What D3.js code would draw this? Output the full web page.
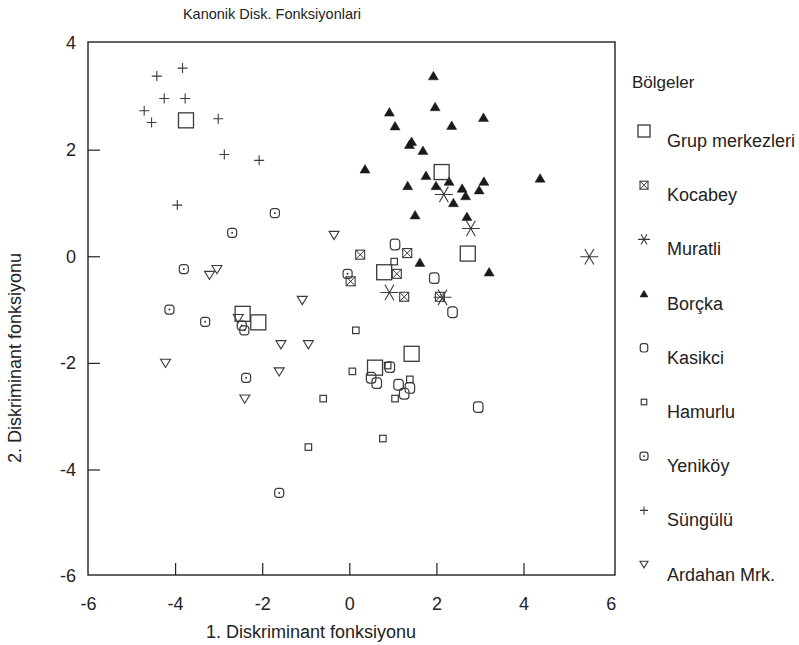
<!DOCTYPE html>
<html><head><meta charset="utf-8">
<script src="https://cdn.jsdelivr.net/npm/d3@7"></script>
<style>
body{margin:0;background:#fff;}
text{font-family:"Liberation Sans",Arial,sans-serif;fill:#222;}
</style></head>
<body><svg id="c" width="799" height="645"></svg>
<script>
// ---- data (Discriminant function 1, Discriminant function 2) ----
const grupMerkezleri = [[-3.75,2.55],[2.12,1.58],[2.72,0.05],[0.80,-0.30],[1.43,-1.83],[0.59,-2.09],[-2.45,-1.08],[-2.09,-1.24]];
const kocabey = [[0.25,0.03],[1.33,0.06],[1.09,-0.33],[0.03,-0.47],[1.26,-0.76],[2.08,-0.76]];
const muratli = [[0.92,-0.68],[2.14,-0.77],[2.17,1.16],[2.79,0.52],[5.51,-0.01]];
const borcka = [[1.93,3.39],[1.97,2.81],[0.92,2.71],[3.08,2.61],[1.05,2.45],[2.35,2.46],[1.43,2.16],[1.38,2.10],[1.69,1.99],[1.76,1.52],[1.34,1.33],[1.99,1.33],[2.29,1.41],[2.59,1.28],[3.09,1.41],[2.98,1.25],[2.67,1.14],[2.39,1.01],[4.38,1.47],[1.51,0.78],[2.70,0.75],[1.62,-0.11],[3.21,-0.29],[0.36,1.64]];
const kasikci = [[1.05,0.22],[1.95,-0.41],[2.37,-1.05],[0.93,-2.08],[0.50,-2.28],[0.63,-2.38],[1.13,-2.41],[1.39,-2.47],[1.26,-2.58],[2.96,-2.83]];
const hamurlu = [[1.03,-0.10],[0.88,-2.05],[1.39,-2.31],[1.05,-2.67],[0.07,-2.16],[0.15,-1.39],[0.77,-3.42],[-0.60,-2.67],[-0.94,-3.58]];
const yenikoy = [[-1.71,0.81],[-2.69,0.44],[-3.80,-0.24],[-0.04,-0.33],[-4.13,-1.00],[-3.31,-1.23],[-2.47,-1.30],[-2.41,-1.39],[-2.37,-2.28],[-1.61,-4.44]];
const sungulu = [[-3.83,3.53],[-4.42,3.38],[-4.25,2.96],[-3.77,2.96],[-4.71,2.73],[-4.54,2.51],[-3.01,2.58],[-2.87,1.91],[-2.07,1.80],[-3.95,0.96]];
const ardahan = [[-0.35,0.39],[-3.04,-0.25],[-3.21,-0.36],[-1.08,-0.83],[-2.55,-1.17],[-1.57,-1.66],[-0.94,-1.66],[-4.22,-2.01],[-1.61,-2.17],[-2.40,-2.68]];

const xTicks = [-6,-4,-2,0,2,4,6];
const yTicks = [4,2,0,-2,-4,-6];
const xInnerTicks = [-4,-2,0,2,4];
const yInnerTicks = [2,0,-2,-4];
const legendTitle = "Bölgeler";
const legendLabels = ["Grup merkezleri","Kocabey","Muratli","Borçka","Kasikci","Hamurlu","Yeniköy","Süngülü","Ardahan Mrk."];
const chartTitle = "Kanonik Disk. Fonksiyonlari";
const xTitle = "1. Diskriminant fonksiyonu";
const yTitle = "2. Diskriminant fonksiyonu";

// ---- drawing ----
const svg = d3.select("#c");
const x = d3.scaleLinear().domain([-6, 6.1]).range([88, 615]);
const y = d3.scaleLinear().domain([-5.98, 4.02]).range([575, 42]);
const stroke = "#3a3a3a";
const fmt = d => String(d);

function symbol(g, type, s){
  if(type==="square"){
    g.append("rect").attr("x",-s/2).attr("y",-s/2).attr("width",s).attr("height",s)
     .attr("fill","none").attr("stroke",stroke).attr("stroke-width",1.3);
  } else if(type==="boxx"){
    g.append("rect").attr("x",-s/2).attr("y",-s/2).attr("width",s).attr("height",s)
     .attr("fill","none").attr("stroke",stroke).attr("stroke-width",1.1);
    g.append("path").attr("d",`M${-s/2},${-s/2}L${s/2},${s/2}M${s/2},${-s/2}L${-s/2},${s/2}`)
     .attr("stroke",stroke).attr("stroke-width",1);
  } else if(type==="star"){
    const r=s/2, a=r*0.5, b=r*0.866;
    g.append("path").attr("d",`M${-r},0L${r},0M${-a},${-b}L${a},${b}M${a},${-b}L${-a},${b}`)
     .attr("stroke",stroke).attr("stroke-width",1.1).attr("fill","none");
  } else if(type==="triup"){
    const w=s, h=s*0.85;
    g.append("path").attr("d",`M0,${-h/2}L${w/2},${h/2}L${-w/2},${h/2}Z`)
     .attr("fill","#1a1a1a").attr("stroke","#1a1a1a").attr("stroke-width",0.5);
  } else if(type==="round"){
    g.append("rect").attr("x",-s/2).attr("y",-s*0.56).attr("width",s).attr("height",s*1.12)
     .attr("rx",s*0.32).attr("fill","none").attr("stroke",stroke).attr("stroke-width",1.2);
  } else if(type==="small"){
    g.append("rect").attr("x",-s/2).attr("y",-s/2).attr("width",s).attr("height",s)
     .attr("fill","none").attr("stroke",stroke).attr("stroke-width",1.2);
  } else if(type==="dot"){
    g.append("rect").attr("x",-s/2).attr("y",-s/2).attr("width",s).attr("height",s)
     .attr("rx",s*0.3).attr("fill","none").attr("stroke",stroke).attr("stroke-width",1.2);
    g.append("circle").attr("r",Math.max(0.9,s*0.11)).attr("fill",stroke);
  } else if(type==="plus"){
    g.append("path").attr("d",`M${-s/2},0L${s/2},0M0,${-s/2}L0,${s/2}`)
     .attr("stroke",stroke).attr("stroke-width",1.1);
  } else if(type==="tridown"){
    const w=s, h=s*0.82;
    g.append("path").attr("d",`M${-w/2},${-h/2}L${w/2},${-h/2}L0,${h/2}Z`)
     .attr("fill","none").attr("stroke",stroke).attr("stroke-width",1.1);
  }
}

// title
svg.append("text").attr("x",272).attr("y",19).attr("text-anchor","middle")
  .attr("font-size",14.5).text(chartTitle);

// frame
const [x0,x1]=x.range(), [y0,y1]=[y.range()[1], y.range()[0]];
svg.append("rect").attr("x",x0).attr("y",y0).attr("width",x1-x0).attr("height",y1-y0)
  .attr("fill","none").attr("stroke","#222").attr("stroke-width",1.4);

// x axis labels
const gxl = svg.append("g").attr("transform",`translate(0,${y1})`)
  .call(d3.axisBottom(x).tickValues(xTicks).tickSize(0).tickPadding(22).tickFormat(fmt));
gxl.select(".domain").remove();
gxl.selectAll("text").attr("font-size",18).attr("fill","#222").attr("font-family","Liberation Sans, Arial, sans-serif");
// x inner ticks
const gxt = svg.append("g").attr("transform",`translate(0,${y1})`)
  .call(d3.axisBottom(x).tickValues(xInnerTicks).tickSize(-12).tickFormat(""));
gxt.select(".domain").remove();
gxt.selectAll("line").attr("stroke","#222").attr("stroke-width",1.2);

// y axis labels
const gyl = svg.append("g").attr("transform",`translate(${x0},0)`)
  .call(d3.axisLeft(y).tickValues(yTicks).tickSize(0).tickPadding(12).tickFormat(fmt));
gyl.select(".domain").remove();
gyl.selectAll("text").attr("font-size",18).attr("fill","#222").attr("font-family","Liberation Sans, Arial, sans-serif");
const gyt = svg.append("g").attr("transform",`translate(${x0},0)`)
  .call(d3.axisLeft(y).tickValues(yInnerTicks).tickSize(-12).tickFormat(""));
gyt.select(".domain").remove();
gyt.selectAll("line").attr("stroke","#222").attr("stroke-width",1.2);

// axis titles
svg.append("text").attr("x",311).attr("y",638).attr("text-anchor","middle").attr("font-size",18).text(xTitle);
svg.append("text").attr("transform","translate(21,358) rotate(-90)").attr("text-anchor","middle").attr("font-size",18).text(yTitle);

// points
const series = [
  {data:ardahan, type:"tridown", size:10},
  {data:sungulu, type:"plus", size:10},
  {data:yenikoy, type:"dot", size:9},
  {data:hamurlu, type:"small", size:6.5},
  {data:kasikci, type:"round", size:9.5},
  {data:borcka, type:"triup", size:10},
  {data:muratli, type:"star", size:18},
  {data:kocabey, type:"boxx", size:9},
  {data:grupMerkezleri, type:"square", size:15}
];
const pts = svg.append("g");
series.forEach(s=>{
  pts.selectAll(null).data(s.data).enter().append("g")
    .attr("transform",d=>`translate(${x(d[0])},${y(d[1])})`)
    .each(function(){ symbol(d3.select(this), s.type, s.size); });
});

// legend
const legTypes = [["square",12],["boxx",8],["star",12],["triup",8],["round",7.5],["small",5.5],["dot",8],["plus",8],["tridown",8]];
svg.append("text").attr("x",632).attr("y",88).attr("font-size",17).text(legendTitle);
legendLabels.forEach((lab,i)=>{
  const by = 147 + i*54.2;
  const g = svg.append("g").attr("transform",`translate(644,${by-16})`);
  symbol(g, legTypes[i][0], legTypes[i][1]);
  svg.append("text").attr("x",667).attr("y",by).attr("font-size",18).text(lab);
});
</script></body></html>
